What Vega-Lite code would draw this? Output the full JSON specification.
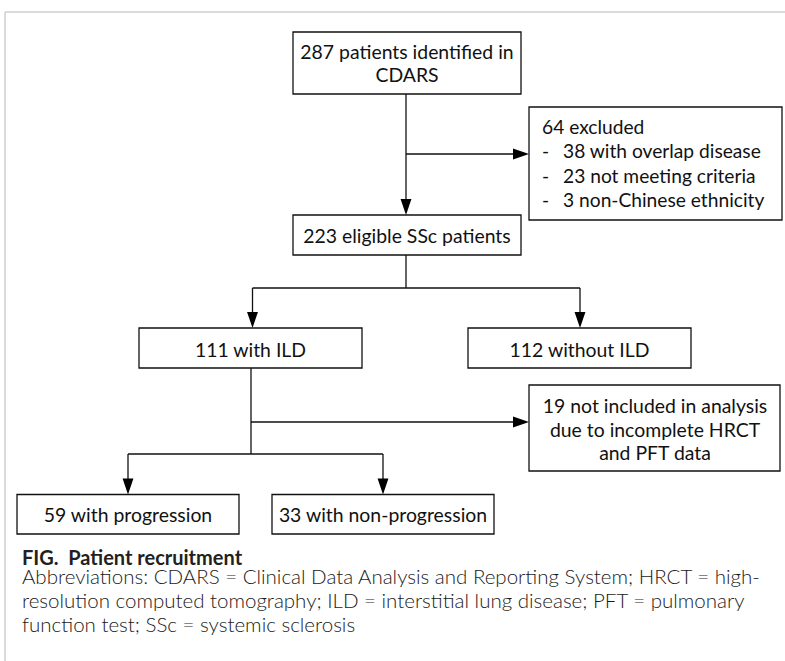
{
  "$schema": "https://vega.github.io/schema/vega-lite/v6.json",
  "width": 785,
  "height": 661,
  "autosize": {"type": "none"},
  "padding": 0,
  "background": "white",
  "config": {"view": {"stroke": null}},
  "datasets": {
    "frame": [
      {"x": 5, "x2": 5, "y": 12, "y2": 661},
      {"x": 5, "x2": 785, "y": 12, "y2": 12}
    ],
    "boxes": [
      {"id": "identified", "x1": 293, "x2": 521, "y1": 32, "y2": 94},
      {"id": "excluded", "x1": 529, "x2": 782, "y1": 107, "y2": 220},
      {"id": "eligible", "x1": 293, "x2": 521, "y1": 215, "y2": 255},
      {"id": "ild", "x1": 139, "x2": 362, "y1": 328, "y2": 368},
      {"id": "noild", "x1": 468, "x2": 691, "y1": 328, "y2": 368},
      {"id": "notincluded", "x1": 529, "x2": 780, "y1": 385, "y2": 471},
      {"id": "prog", "x1": 17, "x2": 239, "y1": 494.5, "y2": 534},
      {"id": "nonprog", "x1": 272, "x2": 494, "y1": 494.5, "y2": 534}
    ],
    "lines": [
      {"x": 406, "x2": 406, "y": 94, "y2": 205},
      {"x": 406, "x2": 515, "y": 154, "y2": 154},
      {"x": 406, "x2": 406, "y": 255, "y2": 288},
      {"x": 252.5, "x2": 580, "y": 288, "y2": 288},
      {"x": 252.5, "x2": 252.5, "y": 288, "y2": 315},
      {"x": 580, "x2": 580, "y": 288, "y2": 315},
      {"x": 251, "x2": 251, "y": 368, "y2": 454},
      {"x": 251, "x2": 515, "y": 422, "y2": 422},
      {"x": 128, "x2": 383, "y": 454, "y2": 454},
      {"x": 128, "x2": 128, "y": 454, "y2": 482},
      {"x": 383, "x2": 383, "y": 454, "y2": 482}
    ],
    "arrows": [
      {"dir": "down", "x": 406, "y": 215},
      {"dir": "right", "x": 529, "y": 154},
      {"dir": "down", "x": 252.5, "y": 328},
      {"dir": "down", "x": 580, "y": 328},
      {"dir": "right", "x": 529, "y": 422},
      {"dir": "down", "x": 128, "y": 494.5},
      {"dir": "down", "x": 383, "y": 494.5}
    ],
    "texts": [
      {"role": "center", "x": 407, "y": 58.5, "text": "287 patients identified in"},
      {"role": "center", "x": 407, "y": 82, "text": "CDARS"},
      {"role": "left", "x": 542, "y": 133.5, "text": "64 excluded"},
      {"role": "left", "x": 542, "y": 158, "text": "-"},
      {"role": "left", "x": 542, "y": 182.5, "text": "-"},
      {"role": "left", "x": 542, "y": 207, "text": "-"},
      {"role": "left", "x": 563, "y": 158, "text": "38 with overlap disease"},
      {"role": "left", "x": 563, "y": 182.5, "text": "23 not meeting criteria"},
      {"role": "left", "x": 563, "y": 207, "text": "3 non-Chinese ethnicity"},
      {"role": "center", "x": 407, "y": 243, "text": "223 eligible SSc patients"},
      {"role": "center", "x": 250.5, "y": 356.5, "text": "111 with ILD"},
      {"role": "center", "x": 579.5, "y": 356.5, "text": "112 without ILD"},
      {"role": "center", "x": 655, "y": 413, "text": "19 not included in analysis"},
      {"role": "center", "x": 655, "y": 436.5, "text": "due to incomplete HRCT"},
      {"role": "center", "x": 655, "y": 460, "text": "and PFT data"},
      {"role": "center", "x": 128, "y": 521.5, "text": "59 with progression"},
      {"role": "center", "x": 383, "y": 521.5, "text": "33 with non-progression"},
      {"role": "caption", "x": 22, "y": 565, "text": "FIG.\u00a0\u00a0Patient recruitment"},
      {"role": "abbr", "x": 22, "y": 583.5, "text": "Abbreviations: CDARS = Clinical Data Analysis and Reporting System; HRCT = high-"},
      {"role": "abbr", "x": 22, "y": 607.5, "text": "resolution computed tomography; ILD = interstitial lung disease; PFT = pulmonary"},
      {"role": "abbr", "x": 22, "y": 631.5, "text": "function test; SSc = systemic sclerosis"}
    ]
  },
  "resolve": {"scale": {"x": "shared", "y": "shared"}},
  "layer": [
    {
      "data": {"name": "frame"},
      "mark": {"type": "rule", "color": "#cfcfcf", "strokeWidth": 1.5},
      "encoding": {
        "x": {"field": "x", "type": "quantitative", "scale": {"domain": [0, 785], "nice": false, "zero": false}, "axis": null},
        "x2": {"field": "x2"},
        "y": {"field": "y", "type": "quantitative", "scale": {"domain": [0, 661], "nice": false, "zero": false, "reverse": true}, "axis": null},
        "y2": {"field": "y2"}
      }
    },
    {
      "data": {"name": "boxes"},
      "mark": {"type": "rect", "fill": "white", "stroke": "#111111", "strokeWidth": 1.3},
      "encoding": {
        "x": {"field": "x1", "type": "quantitative"},
        "x2": {"field": "x2"},
        "y": {"field": "y1", "type": "quantitative"},
        "y2": {"field": "y2"}
      }
    },
    {
      "data": {"name": "lines"},
      "mark": {"type": "rule", "color": "#111111", "strokeWidth": 1.3},
      "encoding": {
        "x": {"field": "x", "type": "quantitative"},
        "x2": {"field": "x2"},
        "y": {"field": "y", "type": "quantitative"},
        "y2": {"field": "y2"}
      }
    },
    {
      "data": {"name": "arrows"},
      "transform": [{"filter": "datum.dir === 'down'"}],
      "mark": {"type": "point", "shape": "M-0.34,-1L0.34,-1L0,0Z", "size": 1024, "filled": true, "color": "#000000", "opacity": 1, "strokeWidth": 0},
      "encoding": {
        "x": {"field": "x", "type": "quantitative"},
        "y": {"field": "y", "type": "quantitative"}
      }
    },
    {
      "data": {"name": "arrows"},
      "transform": [{"filter": "datum.dir === 'right'"}],
      "mark": {"type": "point", "shape": "M-1,-0.34L-1,0.34L0,0Z", "size": 1024, "filled": true, "color": "#000000", "opacity": 1, "strokeWidth": 0},
      "encoding": {
        "x": {"field": "x", "type": "quantitative"},
        "y": {"field": "y", "type": "quantitative"}
      }
    },
    {
      "data": {"name": "texts"},
      "transform": [{"filter": "datum.role === 'center'"}],
      "mark": {"type": "text", "align": "center", "baseline": "alphabetic", "font": "Lato", "fontSize": 19.4, "color": "#111111"},
      "encoding": {
        "x": {"field": "x", "type": "quantitative"},
        "y": {"field": "y", "type": "quantitative"},
        "text": {"field": "text"}
      }
    },
    {
      "data": {"name": "texts"},
      "transform": [{"filter": "datum.role === 'left'"}],
      "mark": {"type": "text", "align": "left", "baseline": "alphabetic", "font": "Lato", "fontSize": 19.2, "color": "#111111"},
      "encoding": {
        "x": {"field": "x", "type": "quantitative"},
        "y": {"field": "y", "type": "quantitative"},
        "text": {"field": "text"}
      }
    },
    {
      "data": {"name": "texts"},
      "transform": [{"filter": "datum.role === 'caption'"}],
      "mark": {"type": "text", "align": "left", "baseline": "alphabetic", "font": "Lato", "fontSize": 20, "fontWeight": "bold", "color": "#231f20"},
      "encoding": {
        "x": {"field": "x", "type": "quantitative"},
        "y": {"field": "y", "type": "quantitative"},
        "text": {"field": "text"}
      }
    },
    {
      "data": {"name": "texts"},
      "transform": [{"filter": "datum.role === 'abbr'"}],
      "mark": {"type": "text", "align": "left", "baseline": "alphabetic", "font": "Lato", "fontSize": 20.5, "fontWeight": 300, "color": "#1a1a1a"},
      "encoding": {
        "x": {"field": "x", "type": "quantitative"},
        "y": {"field": "y", "type": "quantitative"},
        "text": {"field": "text"}
      }
    }
  ]
}
